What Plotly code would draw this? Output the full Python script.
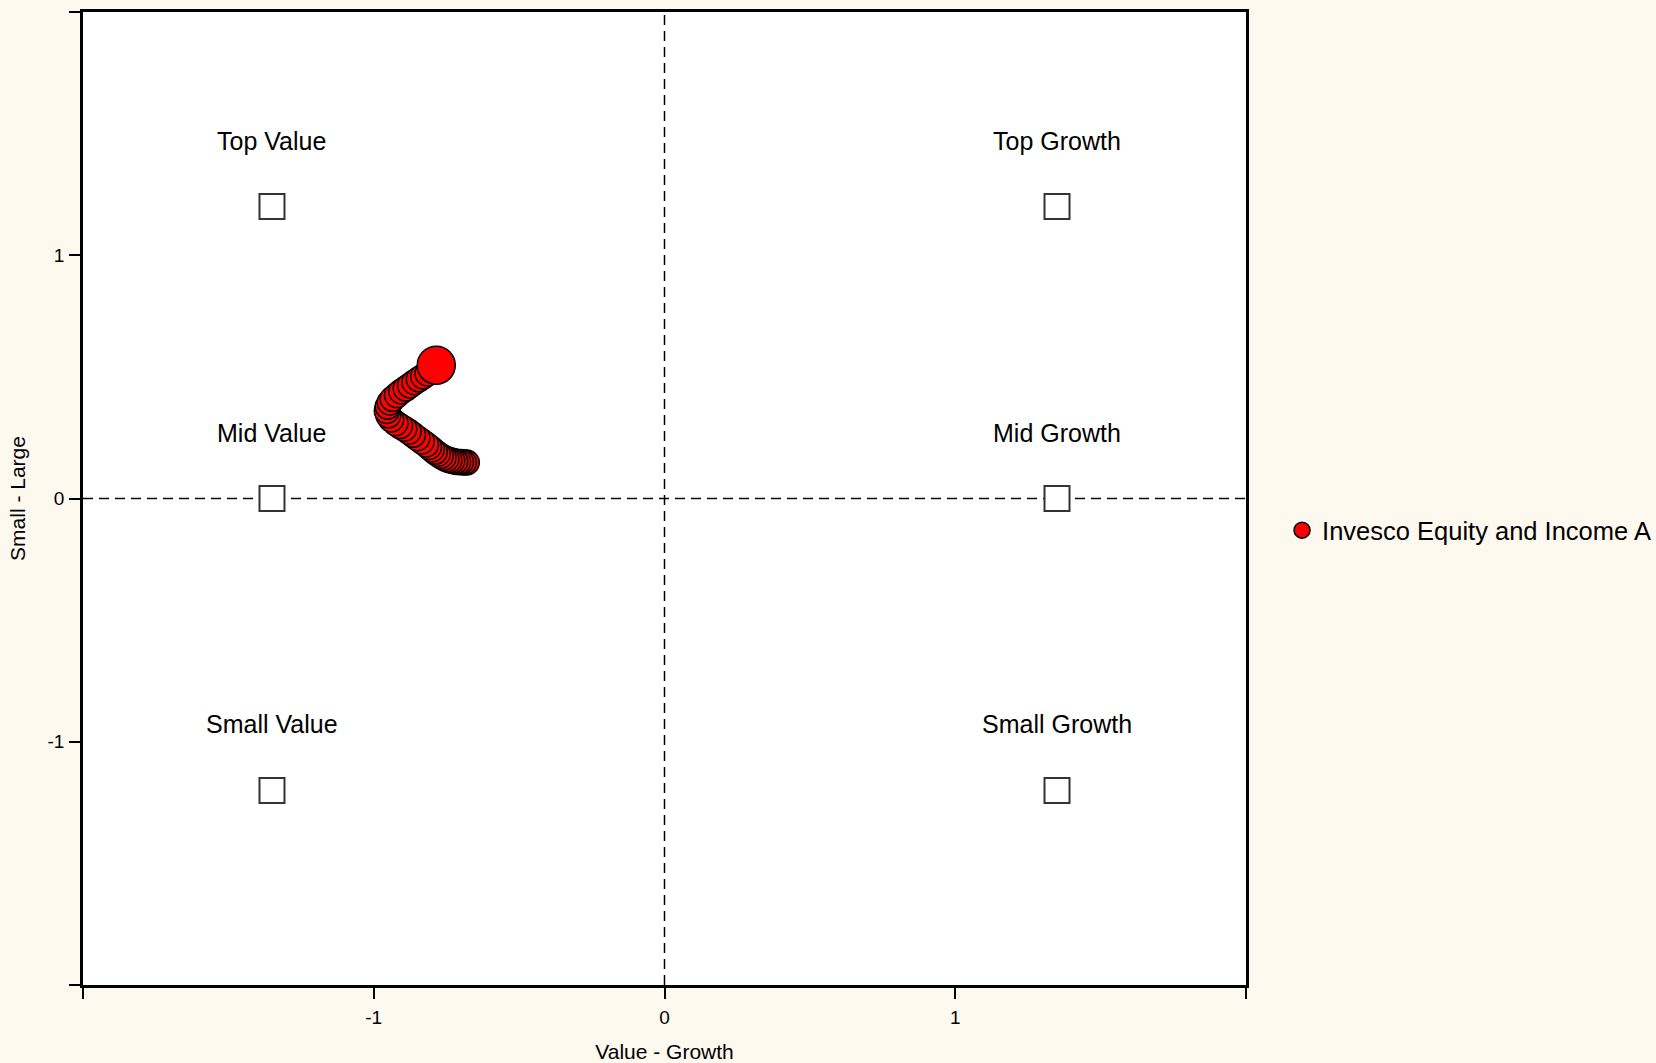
import plotly.graph_objects as go

# style box positions and labels
style_labels = ["Top Value", "Mid Value", "Small Value", "Top Growth", "Mid Growth", "Small Growth"]
style_x = [-1.35, -1.35, -1.35, 1.35, 1.35, 1.35]
style_y = [1.2, 0.0, -1.2, 1.2, 0.0, -1.2]

# fund style drift, oldest to latest
fund_name = "Invesco Equity and Income A"
fund_x = [-0.68, -0.69, -0.70, -0.71, -0.72, -0.73, -0.74, -0.75, -0.76, -0.77,
          -0.78, -0.79, -0.80, -0.81, -0.82, -0.835, -0.85, -0.865, -0.88, -0.895,
          -0.91, -0.925, -0.94, -0.95, -0.955, -0.952, -0.945, -0.935, -0.92, -0.905,
          -0.89, -0.875, -0.86, -0.845, -0.83, -0.815, -0.80, -0.785]
fund_y = [0.148, 0.148, 0.150, 0.150, 0.152, 0.155, 0.158, 0.162, 0.168, 0.175,
          0.183, 0.192, 0.202, 0.212, 0.222, 0.235, 0.248, 0.262, 0.275, 0.287,
          0.298, 0.310, 0.325, 0.342, 0.360, 0.378, 0.395, 0.410, 0.425, 0.440,
          0.452, 0.465, 0.478, 0.490, 0.502, 0.514, 0.527, 0.548]

tick_vals = [-2, -1, 0, 1, 2]
tick_text = ["", "-1", "0", "1", ""]

FONT = "Arial, Liberation Sans, sans-serif"

fig = go.Figure()

fig.add_trace(go.Scatter(
    x=style_x, y=style_y, mode="markers", showlegend=False, hoverinfo="skip",
    marker=dict(symbol="square", size=25, color="white", line=dict(color="#333333", width=2)),
))

sizes = [25] * (len(fund_x) - 1) + [38]
fig.add_trace(go.Scatter(
    x=fund_x, y=fund_y, mode="markers", name=fund_name,
    marker=dict(size=sizes, color="#ff0000", opacity=1, line=dict(color="black", width=1.5)),
))

for lab, sx, sy in zip(style_labels, style_x, style_y):
    fig.add_annotation(x=sx, y=sy, text=lab, showarrow=False, yshift=66,
                       font=dict(size=25, color="black", family=FONT))

# dashed zero lines
fig.add_shape(type="line", x0=0, x1=0, y0=-2, y1=2, layer="below",
              line=dict(color="black", width=1.5, dash="10px,6px"))
fig.add_shape(type="line", x0=-2, x1=2, y0=0, y1=0, layer="below",
              line=dict(color="black", width=1.5, dash="10px,6px"))

axis_common = dict(
    range=[-2, 2], tickvals=tick_vals, ticktext=tick_text, ticks="outside", ticklen=11,
    tickwidth=1.5, tickcolor="black", showgrid=False, zeroline=False,
    showline=True, linecolor="black", linewidth=2.5, mirror=True, automargin=False,
    tickfont=dict(size=19, color="black", family=FONT),
)

fig.update_xaxes(**axis_common, ticklabelstandoff=2,
                 title=dict(text="Value - Growth", standoff=22, font=dict(size=21, color="black", family=FONT)))
fig.update_yaxes(**axis_common, ticklabelstandoff=1,
                 title=dict(text="Small - Large", standoff=17, font=dict(size=21, color="black", family=FONT)))

fig.update_layout(
    width=1656, height=1063,
    margin=dict(l=83, r=410, t=12, b=78, autoexpand=False),
    paper_bgcolor="#fef9ee", plot_bgcolor="white",
    font=dict(family=FONT, color="black"),
    legend=dict(x=1.031, y=0.467, xanchor="left", yanchor="middle",
                bgcolor="rgba(0,0,0,0)", font=dict(size=25.5, color="black", family=FONT)),
)

fig.write_html("out.html", config={"displayModeBar": False},
               post_script="document.body.style.margin='0';")
